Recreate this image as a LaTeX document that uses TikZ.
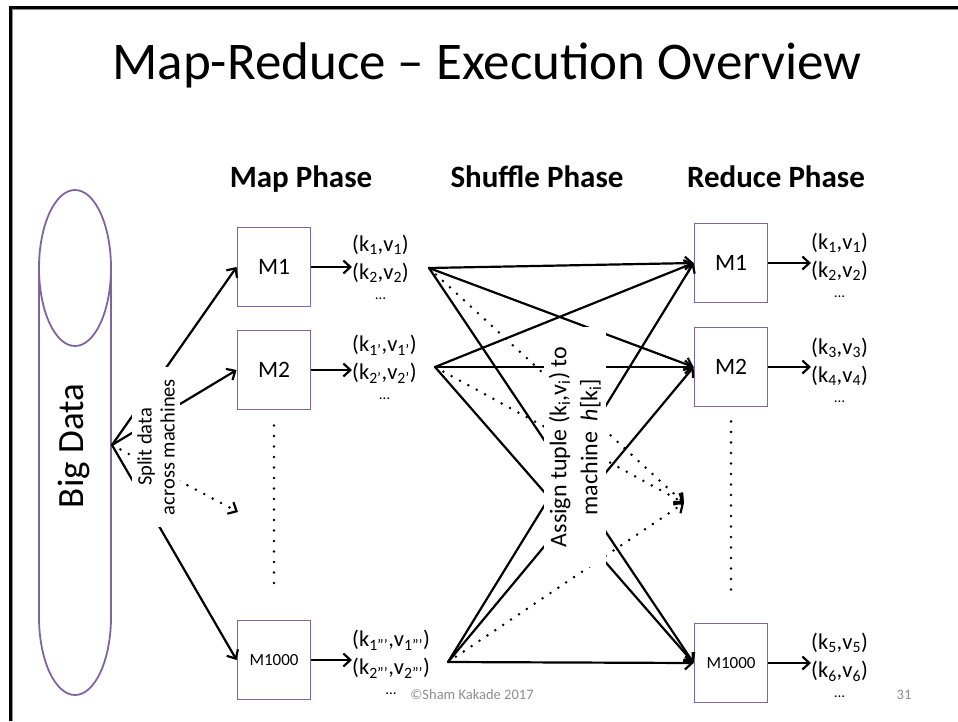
\documentclass[tikz,border=0pt]{standalone}
\usepackage{fontspec}
\setmainfont{Carlito}
\usetikzlibrary{arrows.meta}
\definecolor{boxpurple}{RGB}{128,100,162}
\definecolor{footgray}{RGB}{140,140,140}
\begin{document}
\begin{tikzpicture}[x=1pt,y=-1pt,
  mbox/.style={draw=boxpurple, line width=1.8pt, minimum width=73pt, minimum height=79pt, inner sep=0pt, font=\fontsize{23.5}{27}\selectfont},
  arr/.style={line width=2.2pt, -{Straight Barb[length=7pt,width=13pt,line width=2.2pt]}},
  darr/.style={arr, line cap=round, dash pattern=on 0pt off 9.5pt, line width=2.8pt},
  vdots/.style={line width=2.8pt, line cap=round, dash pattern=on 0pt off 10.5pt},
  tup/.style={align=center, font=\fontsize{22.5}{29}\selectfont, inner sep=0pt, anchor=north west},
  hdr/.style={font=\bfseries\fontsize{31}{36}\selectfont, anchor=base},
  lbl/.style={fill=white, rotate=90, align=center},
  foot/.style={text=footgray, font=\fontsize{14.5}{16}\selectfont, anchor=base},
  ]
\useasboundingbox (0,0) rectangle (958,721);
% slide frame
\draw[footgray, line width=1.2pt] (12,721) -- (12,9.5) -- (958,9.5);
\draw[black, line width=2.6pt] (10.3,721) -- (10.3,7.3) -- (958,7.3);

% title and headers
\node[anchor=base, font=\fontsize{53}{60}\selectfont] (title) at (487,79) {Map-Reduce – Execution Overview};
\node[hdr] (hmap) at (301,187) {Map Phase};
\node[hdr] (hshuf) at (537,187) {Shuffle Phase};
\node[hdr] (hred) at (776,187) {Reduce Phase};

% big data cylinder
\draw[boxpurple, line width=1.8pt] (75,268) ellipse [x radius=36, y radius=78];
\draw[boxpurple, line width=1.8pt] (39,268) -- (39,617) arc[start angle=180, end angle=0, x radius=36, y radius=78] -- (111,268);
\node[rotate=90, font=\fontsize{37}{40}\selectfont] (bigdata) at (74,446) {Big Data};
\coordinate (bd) at (112,445);

% map boxes
\node[mbox] (m1) at (274,267) {M1};
\node[mbox] (m2) at (274,370) {M2};
\node[mbox, font=\fontsize{17}{20}\selectfont] (m1000) at (274,660) {M1000};
\coordinate (md) at (238,512);

% reduce boxes
\node[mbox] (r1) at (731,263) {M1};
\node[mbox] (r2) at (731,367) {M2};
\node[mbox, font=\fontsize{17}{20}\selectfont] (r1000) at (731,663) {M1000};
\coordinate (rd) at (684,503);

% vertical dots
\draw[vdots, shorten <=15pt, shorten >=30pt] (m2.south) -- (m1000.north);
\draw[vdots, shorten <=14pt, shorten >=30pt] (r2.south) -- (r1000.north);

% map tuples
\node[tup] (t1) at (352,235) {(k\textsubscript{1},v\textsubscript{1})\\[-1pt](k\textsubscript{2},v\textsubscript{2})\\[-9pt]{\fontsize{15}{15}\selectfont …}};
\node[tup] (t2) at (352,335) {(k\textsubscript{1'},v\textsubscript{1'})\\[-1pt](k\textsubscript{2'},v\textsubscript{2'})\\[-9pt]{\fontsize{15}{15}\selectfont …}};
\node[tup] (t3) at (352,630) {(k\textsubscript{1'''},v\textsubscript{1'''})\\[-1pt](k\textsubscript{2'''},v\textsubscript{2'''})\\[-9pt]{\fontsize{15}{15}\selectfont …}};

% reduce tuples
\node[tup] (u1) at (811,233) {(k\textsubscript{1},v\textsubscript{1})\\[-1pt](k\textsubscript{2},v\textsubscript{2})\\[-9pt]{\fontsize{15}{15}\selectfont …}};
\node[tup] (u2) at (811,338) {(k\textsubscript{3},v\textsubscript{3})\\[-1pt](k\textsubscript{4},v\textsubscript{4})\\[-9pt]{\fontsize{15}{15}\selectfont …}};
\node[tup] (u3) at (811,633) {(k\textsubscript{5},v\textsubscript{5})\\[-1pt](k\textsubscript{6},v\textsubscript{6})\\[-9pt]{\fontsize{15}{15}\selectfont …}};

% box -> tuple arrows
\draw[arr] (m1.east) -- (t1.west |- m1.east);
\draw[arr] (m2.east) -- (t2.west |- m2.east);
\draw[arr] (m1000.east) -- (t3.west |- m1000.east);
\draw[arr] (r1.east) -- (u1.west |- r1.east);
\draw[arr] (r2.east) -- (u2.west |- r2.east);
\draw[arr] (r1000.east) -- (u3.west |- r1000.east);

% split arrows
\draw[arr] (bd) -- (m1.west);
\draw[arr] (bd) -- (m2.west);
\draw[arr] (bd) -- (m1000.west);
\draw[darr] (bd) -- (md);
\node[lbl, font=\fontsize{20.5}{23}\selectfont, inner xsep=12pt, inner ysep=5pt] (split) at (156,447) {Split data\\across machines};

% shuffle sources
\coordinate (s1) at (429,268);
\coordinate (s2) at (435,367);
\coordinate (s3) at (448,662);
\foreach \s in {s1,s2,s3}{
  \draw[arr] (\s) -- (r1.west);
  \draw[arr] (\s) -- (r2.west);
  \draw[arr] (\s) -- (r1000.west);
  \draw[darr] (\s) -- (rd);
}
\node[lbl, font=\fontsize{24}{31}\selectfont, inner xsep=20pt, inner ysep=5pt] (assign) at (575,447) {Assign tuple (k\textsubscript{i},v\textsubscript{i}) to\\machine\ \ \textit{h}[k\textsubscript{i}]};

% footer
\node[foot] (copy) at (472,699) {©Sham Kakade 2017};
\node[foot] (pnum) at (904,699) {31};
\end{tikzpicture}
\end{document}
